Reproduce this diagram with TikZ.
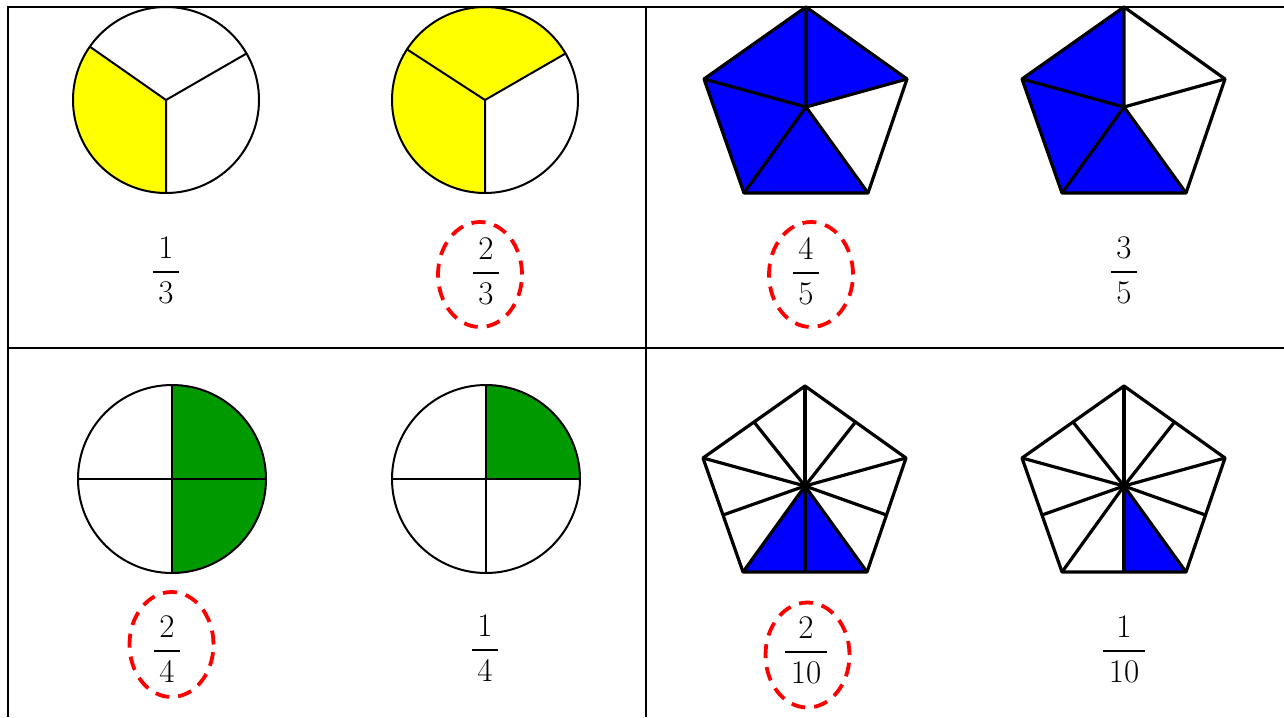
\documentclass[tikz,border=0pt]{standalone}
\usepackage{fontspec}
\usetikzlibrary{shapes.geometric,calc}
\definecolor{fy}{RGB}{255,255,0}
\definecolor{fb}{RGB}{0,0,255}
\definecolor{fg}{RGB}{0,153,0}
\definecolor{fr}{RGB}{255,0,0}
\newcommand\pentpts[3]{%
  \coordinate (#1c) at (#2,#3);
  \coordinate (#1t) at (#2,#3+100);
  \coordinate (#1ur) at (#2+101,#3+28);
  \coordinate (#1ul) at (#2-102,#3+28);
  \coordinate (#1bl) at (#2-62,#3-86);
  \coordinate (#1br) at (#2+62,#3-86);
}
\newcommand\pentmids[1]{%
  \coordinate (#1m1) at ($(#1t)!0.5!(#1ur)$);
  \coordinate (#1m2) at ($(#1ur)!0.5!(#1br)$);
  \coordinate (#1m3) at ($(#1br)!0.5!(#1bl)$);
  \coordinate (#1m4) at ($(#1bl)!0.5!(#1ul)$);
  \coordinate (#1m5) at ($(#1ul)!0.5!(#1t)$);
}
\newcommand\myfrac[2]{{\setlength\arrayrulewidth{2.2pt}\renewcommand\arraystretch{1}%
  \begin{tabular}{@{\,}c@{\,}}#1\\\hline #2\end{tabular}}}
\begin{document}
\begin{tikzpicture}[x=1pt,y=1pt,
  gridline/.style={line width=2.4pt},
  disc/.style={line width=2pt},
  pent/.style={line width=3.2pt, line join=round},
  frac/.style={font=\fontsize{33}{43}\selectfont, inner sep=0pt},
  ring/.style={ellipse, draw=fr, line width=3.8pt, dash pattern=on 14pt off 9pt,
               minimum width=84pt, minimum height=105pt, inner sep=0pt}]
\useasboundingbox (0,0) rectangle (1284,-717);
\fill[white] (0,0) rectangle (1284,-717);
% table
\draw[gridline] (8,-717) -- (8,-7) -- (1284,-7);
\draw[gridline] (8,-348) -- (1284,-348);
\draw[gridline] (646,-7) -- (646,-717);

% circle 1/3
\coordinate (c1) at (166,-100);
\fill[fy] (c1) -- ++(145:93) arc[start angle=145,end angle=270,radius=93] -- cycle;
\draw[disc] (c1) circle[radius=93];
\draw[disc] (c1) -- ++(30:93) (c1) -- ++(145:93) (c1) -- ++(270:93);
% circle 2/3
\coordinate (c2) at (485,-100);
\fill[fy] (c2) -- ++(30:93) arc[start angle=30,end angle=270,radius=93] -- cycle;
\draw[disc] (c2) circle[radius=93];
\draw[disc] (c2) -- ++(30:93) (c2) -- ++(147:93) (c2) -- ++(270:93);
% circle 2/4
\coordinate (c3) at (172,-479);
\fill[fg] (c3) -- ++(-90:94) arc[start angle=-90,end angle=90,radius=94] -- cycle;
\draw[disc] (c3) circle[radius=94];
\draw[disc] (c3) ++(0,94) -- ++(0,-188) (c3) ++(-94,0) -- ++(188,0);
% circle 1/4
\coordinate (c4) at (486,-479);
\fill[fg] (c4) -- ++(0:94) arc[start angle=0,end angle=90,radius=94] -- cycle;
\draw[disc] (c4) circle[radius=94];
\draw[disc] (c4) ++(0,94) -- ++(0,-188) (c4) ++(-94,0) -- ++(188,0);

% pentagon 4/5
\pentpts{p}{806}{-107}
\fill[fb] (pt) -- (pur) -- (pc) -- (pbr) -- (pbl) -- (pul) -- cycle;
\draw[pent] (pt) -- (pur) -- (pbr) -- (pbl) -- (pul) -- cycle;
\draw[pent] (pc) -- (pt) (pc) -- (pur) (pc) -- (pbr) (pc) -- (pbl) (pc) -- (pul);
% pentagon 3/5
\pentpts{q}{1124}{-107}
\fill[fb] (qt) -- (qc) -- (qbr) -- (qbl) -- (qul) -- cycle;
\draw[pent] (qt) -- (qur) -- (qbr) -- (qbl) -- (qul) -- cycle;
\draw[pent] (qc) -- (qt) (qc) -- (qur) (qc) -- (qbr) (qc) -- (qbl) (qc) -- (qul);
% pentagon 2/10
\pentpts{r}{805}{-486}
\pentmids{r}
\fill[fb] (rbl) -- (rbr) -- (rc) -- cycle;
\draw[pent] (rt) -- (rur) -- (rbr) -- (rbl) -- (rul) -- cycle;
\foreach \k in {t,ur,br,bl,ul,m1,m2,m3,m4,m5} \draw[pent] (rc) -- (r\k);
% pentagon 1/10
\pentpts{s}{1124}{-486}
\pentmids{s}
\fill[fb] (sm3) -- (sbr) -- (sc) -- cycle;
\draw[pent] (st) -- (sur) -- (sbr) -- (sbl) -- (sul) -- cycle;
\foreach \k in {t,ur,br,bl,ul,m1,m2,m3,m4,m5} \draw[pent] (sc) -- (s\k);

% fractions
\node[frac] (f1) at (166,-272) {\myfrac{1}{3}};
\node[frac] (f2) at (486,-273) {\myfrac{2}{3}};
\node[frac] (f3) at (806,-273) {\myfrac{4}{5}};
\node[frac] (f4) at (1124,-272) {\myfrac{3}{5}};
\node[frac] (f5) at (167,-651) {\myfrac{2}{4}};
\node[frac] (f6) at (485,-650) {\myfrac{1}{4}};
\node[frac] (f7) at (806,-652) {\myfrac{2}{10}};
\node[frac] (f8) at (1124,-651) {\myfrac{1}{10}};

% dashed rings
\node[ring] (e2) at (480,-274.5) {};
\node[ring] (e3) at (811,-274.5) {};
\node[ring] (e5) at (171.5,-644.5) {};
\node[ring] (e7) at (807.5,-655) {};
\end{tikzpicture}
\end{document}
